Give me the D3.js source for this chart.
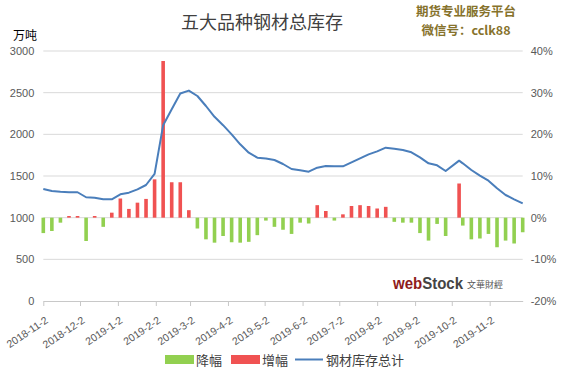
<!DOCTYPE html>
<html>
<head>
<meta charset="utf-8">
<script src="https://cdn.jsdelivr.net/npm/d3@7"></script>
<style>
  body { margin: 0; background: #fff; }
  svg { display: block; font-family: "Noto Sans CJK SC", "Noto Sans", sans-serif; }
</style>
</head>
<body>
<script>
// weekly dates (Fridays, holiday week shifted)
var dates = ["2018-11-02","2018-11-09","2018-11-16","2018-11-23","2018-11-30","2018-12-07","2018-12-14","2018-12-21","2018-12-28",
  "2019-01-04","2019-01-11","2019-01-18","2019-01-25","2019-02-01","2019-02-08","2019-02-15","2019-02-22",
  "2019-03-01","2019-03-08","2019-03-15","2019-03-22","2019-03-29","2019-04-05","2019-04-12","2019-04-19","2019-04-26",
  "2019-05-03","2019-05-10","2019-05-17","2019-05-24","2019-05-31","2019-06-07","2019-06-14","2019-06-21","2019-06-28",
  "2019-07-05","2019-07-12","2019-07-19","2019-07-26","2019-08-02","2019-08-09","2019-08-16","2019-08-23","2019-08-30",
  "2019-09-06","2019-09-13","2019-09-20","2019-09-27","2019-10-08","2019-10-11","2019-10-18","2019-10-25",
  "2019-11-01","2019-11-08","2019-11-15","2019-11-22","2019-11-29"];

// 钢材库存总计 (万吨)
var stock = [1345,1320,1310,1305,1305,1245,1240,1220,1220,
  1280,1300,1340,1392,1525,2110,2300,2490,
  2525,2460,2340,2210,2110,2000,1880,1780,1720,
  1710,1692,1644,1584,1568,1552,1600,1620,1616,
  1616,1664,1712,1760,1796,1840,1828,1812,1784,
  1724,1652,1628,1560,1684,1652,1572,1504,
  1444,1352,1272,1220,1172];

// weekly change (%) -> 降幅 / 增幅
var change = [-3.7,-3.2,-1.2,0.4,0.4,-5.6,0.4,-2.2,1.2,
  4.6,2.1,3.6,4.5,9.2,37.6,8.5,8.5,
  1.8,-2.6,-5.2,-6.0,-4.4,-5.9,-6.0,-5.8,-4.2,
  -0.7,-2.2,-2.9,-3.9,-1.2,-1.4,3.0,1.6,-0.7,
  0.8,2.8,3.0,2.8,2.2,2.6,-1.0,-1.2,-1.2,
  -3.7,-5.5,-1.5,-4.4,8.2,-1.9,-5.2,-5.0,
  -3.9,-7.1,-5.5,-6.2,-3.5];

// axis ticks
var leftTicks = [0,500,1000,1500,2000,2500,3000];
var rightTicks = [-20,-10,0,10,20,30,40];
var monthTicks = ["2018-11-02","2018-12-02","2019-01-02","2019-02-02","2019-03-02","2019-04-02","2019-05-02",
  "2019-06-02","2019-07-02","2019-08-02","2019-09-02","2019-10-02","2019-11-02"];

var parse = d3.timeParse("%Y-%m-%d");
var data = dates.map(function(d, i) {
  return {date: parse(d), stock: stock[i], change: change[i]};
});

var width = 565, height = 368;
var plot = {left: 43.3, right: 522.7, top: 51, bottom: 301};

var svg = d3.select("body").append("svg")
  .attr("width", width)
  .attr("height", height);

// Scales
var x = d3.scaleTime()
  .domain([parse("2018-11-02"), parse("2019-11-29")])
  .range([plot.left, plot.right]);

var yLeft = d3.scaleLinear()
  .domain([0, 3000])
  .range([plot.bottom, plot.top]);

var yRight = d3.scaleLinear()
  .domain([-20, 40])
  .range([plot.bottom, plot.top]);

// Gridlines
svg.append("g")
  .selectAll("line")
  .data(leftTicks.slice(1))
  .enter().append("line")
  .attr("x1", plot.left)
  .attr("x2", plot.right)
  .attr("y1", function(d) { return yLeft(d); })
  .attr("y2", function(d) { return yLeft(d); })
  .attr("stroke", "#d9d9d9")
  .attr("stroke-width", 1);

// Left axis labels
var leftAxis = svg.append("g")
  .attr("transform", "translate(" + plot.left + ",0)")
  .call(d3.axisLeft(yLeft).tickValues(leftTicks).tickSize(0).tickPadding(9)
    .tickFormat(d3.format("d")));
leftAxis.select(".domain").remove();
leftAxis.selectAll("text")
  .attr("fill", "#595959")
  .style("font-size", "11px");

// Right axis labels
var rightAxis = svg.append("g")
  .attr("transform", "translate(" + plot.right + ",0)")
  .call(d3.axisRight(yRight).tickValues(rightTicks).tickSize(0).tickPadding(8)
    .tickFormat(function(d) { return d + "%"; }));
rightAxis.select(".domain").remove();
rightAxis.selectAll("text")
  .attr("fill", "#595959")
  .style("font-size", "11px");

// X axis
var xAxis = svg.append("g")
  .attr("transform", "translate(0," + plot.bottom + ")")
  .call(d3.axisBottom(x)
    .tickValues(monthTicks.map(parse))
    .tickSize(5)
    .tickSizeOuter(0)
    .tickFormat(function(d) { return d.getFullYear() + "-" + (d.getMonth() + 1) + "-" + d.getDate(); }));
xAxis.select(".domain").attr("stroke", "#c8c8c8");
xAxis.selectAll(".tick line").attr("stroke", "#c8c8c8");
xAxis.selectAll("text")
  .attr("fill", "#595959")
  .style("font-size", "10.5px")
  .style("text-anchor", "end")
  .attr("x", 0)
  .attr("y", 0)
  .attr("dy", 0)
  .attr("transform", "translate(5,21) rotate(-34)");

// Bars
var barW = 3.6;
svg.append("g")
  .selectAll("rect")
  .data(data)
  .enter().append("rect")
  .attr("x", function(d) { return x(d.date) - barW / 2; })
  .attr("width", barW)
  .attr("y", function(d) { return yRight(Math.max(0, d.change)); })
  .attr("height", function(d) { return Math.abs(yRight(d.change) - yRight(0)); })
  .attr("fill", function(d) { return d.change < 0 ? "#92d050" : "#f05252"; });

// Line
var line = d3.line()
  .x(function(d) { return x(d.date); })
  .y(function(d) { return yLeft(d.stock); });

svg.append("path")
  .datum(data)
  .attr("d", line)
  .attr("fill", "none")
  .attr("stroke", "#4a7ebb")
  .attr("stroke-width", 2)
  .attr("stroke-linejoin", "round");

// Title
svg.append("text")
  .attr("x", 262)
  .attr("y", 29)
  .attr("text-anchor", "middle")
  .attr("fill", "#404040")
  .style("font-size", "18px")
  .text("五大品种钢材总库存");

// Unit label
svg.append("text")
  .attr("x", 13)
  .attr("y", 40)
  .attr("fill", "#000")
  .style("font-size", "12px")
  .text("万吨");

// Watermark
svg.append("text")
  .attr("x", 466)
  .attr("y", 16)
  .attr("text-anchor", "middle")
  .attr("fill", "#86722c")
  .style("font-size", "12.5px")
  .style("font-weight", "bold")
  .text("期货专业服务平台");
svg.append("text")
  .attr("x", 466)
  .attr("y", 35)
  .attr("text-anchor", "middle")
  .attr("fill", "#86722c")
  .style("font-size", "12.5px")
  .style("font-weight", "bold")
  .text("微信号：cclk88");

// webstock logo
var logo = svg.append("text")
  .attr("x", 393)
  .attr("y", 289)
  .attr("textLength", 70)
  .attr("lengthAdjust", "spacingAndGlyphs")
  .style("font-size", "16px")
  .style("font-weight", "bold")
  .style("font-family", "Arial, 'Liberation Sans', sans-serif");
logo.append("tspan").attr("fill", "#8e1b1b").text("web");
logo.append("tspan").attr("fill", "#444").text("Stock");
svg.append("text")
  .attr("x", 467)
  .attr("y", 288)
  .attr("fill", "#555")
  .style("font-size", "9px")
  .text("文華財經");

// Legend
var legend = svg.append("g").style("font-size", "13px");
legend.append("rect").attr("x", 165).attr("y", 355).attr("width", 29).attr("height", 9).attr("fill", "#92d050");
legend.append("text").attr("x", 196).attr("y", 365).attr("fill", "#404040").text("降幅");
legend.append("rect").attr("x", 231).attr("y", 355).attr("width", 29).attr("height", 9).attr("fill", "#f05252");
legend.append("text").attr("x", 262).attr("y", 365).attr("fill", "#404040").text("增幅");
legend.append("line").attr("x1", 295).attr("x2", 323).attr("y1", 359.5).attr("y2", 359.5)
  .attr("stroke", "#4a7ebb").attr("stroke-width", 2);
legend.append("text").attr("x", 326).attr("y", 365).attr("fill", "#404040").text("钢材库存总计");
</script>
</body>
</html>
